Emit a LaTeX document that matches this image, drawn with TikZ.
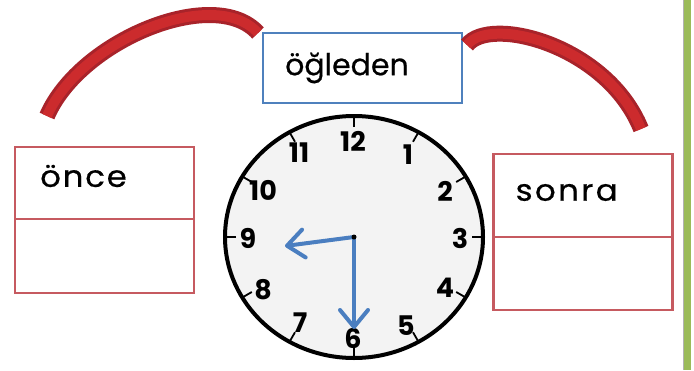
\documentclass[tikz,border=0pt]{standalone}
\usepackage{fontspec}
\setmainfont{Poppins}
\newfontfamily\wordf[FakeBold=0.6]{Poppins}
\newfontfamily\widea[LetterSpace=6,FakeStretch=1.08,FakeBold=0.6]{Poppins}
\newfontfamily\wideb[LetterSpace=8,FakeStretch=1.08,FakeBold=0.6]{Poppins}
\usetikzlibrary{arrows.meta,calc}
\definecolor{boxred}{HTML}{C65A60}
\definecolor{boxblue}{HTML}{4F81BD}
\definecolor{handblue}{HTML}{4A7EC0}
\definecolor{arrred}{HTML}{CC2B2D}
\definecolor{arrdark}{HTML}{A8232A}
\definecolor{bargreen}{HTML}{9BBB59}
\definecolor{faceg}{HTML}{F3F3F3}
\begin{document}
\begin{tikzpicture}[x=1pt,y=-1pt,
  redcell/.style={draw=boxred, line width=2.6pt, minimum width=179pt, inner sep=0pt, outer sep=0pt},
  bluecell/.style={draw=boxblue, line width=2.6pt, minimum width=199pt, minimum height=70pt, inner sep=0pt, outer sep=0pt},
  word/.style={anchor=west, inner sep=0pt},
  num/.style={font=\fontsize{27}{29}\selectfont\bfseries, inner sep=0pt},
  hand/.style={draw=handblue, line width=4pt, line cap=round, -{Straight Barb[length=17pt,width=28pt,line width=4pt,round]}},
  redarr/.style={draw=arrdark, line width=16pt, line cap=butt},
  redarrin/.style={draw=arrred, line width=10pt, line cap=butt},
  tick/.style={line width=1.8pt}
]
\useasboundingbox (0,0) rectangle (694,370);
\fill[white] (0,0) rectangle (694,370);
% green bar
\fill[gray!60] (682.5,0) rectangle (684,370);
\fill[bargreen] (684,0) rectangle (691,370);

% boxes
\node[bluecell] (ogle) at (362.5,68) {};
\node[word, font=\wordf\fontsize{30}{32}\selectfont] at ([xshift=22pt]ogle.west) {öğleden};

\node[redcell, minimum height=72pt] (oncetop) at (104.5,183) {};
\node[redcell, minimum height=74pt] (oncebot) at (104.5,256) {};
\node[word, font=\widea\fontsize{30}{32}\selectfont] at ([xshift=25pt, yshift=7pt]oncetop.west) {önce};

\node[redcell, minimum height=83pt] (sonratop) at (583,195.5) {};
\node[redcell, minimum height=73pt] (sonrabot) at (583,273.5) {};
\node[word, font=\wideb\fontsize{30}{32}\selectfont] at ([xshift=22pt, yshift=3pt]sonratop.west) {sonra};

% red curved arrows
\coordinate (lend) at (47,116);
\coordinate (rend) at (641,129);
\coordinate (rstart) at (467,45);
\coordinate (lstart) at (258,33);
\draw[redarr] (lstart) .. controls (215,-15) and (80,40) .. (lend);
\draw[redarrin] (lstart) .. controls (215,-15) and (80,40) .. (lend);
\draw[redarr] (rstart) .. controls (490,15) and (607,45) .. (rend);
\draw[redarrin] (rstart) .. controls (490,15) and (607,45) .. (rend);

% clock
\coordinate (c) at (354,237);
\draw[line width=4pt, fill=faceg] (c) ellipse [x radius=129, y radius=121];
\foreach \a in {0,30,...,330}
  \draw[tick] ($(c)+({118*cos(\a)},{-110*sin(\a)})$) -- ($(c)+({130*cos(\a)},{-122*sin(\a)})$);
\node[num] (n12) at (353,141) {12};
\node[num] (n1) at (408,155) {1};
\node[num] (n2) at (445,191) {2};
\node[num] (n3) at (460,238) {3};
\node[num] (n4) at (445,288) {4};
\node[num] (n5) at (406,326) {5};
\node[num] (n6) at (353,338) {6};
\node[num] (n7) at (300,323) {7};
\node[num] (n8) at (263,290) {8};
\node[num] (n9) at (248,238) {9};
\node[num] (n10) at (263,190) {10};
\node[num] (n11) at (299,153) {11};

\coordinate (h9) at (285,246);
\coordinate (m6) at (354,329);
\draw[hand] (c) -- (h9);
\draw[hand] (c) -- (m6);
\fill (c) circle (2.5pt);
\end{tikzpicture}
\end{document}
